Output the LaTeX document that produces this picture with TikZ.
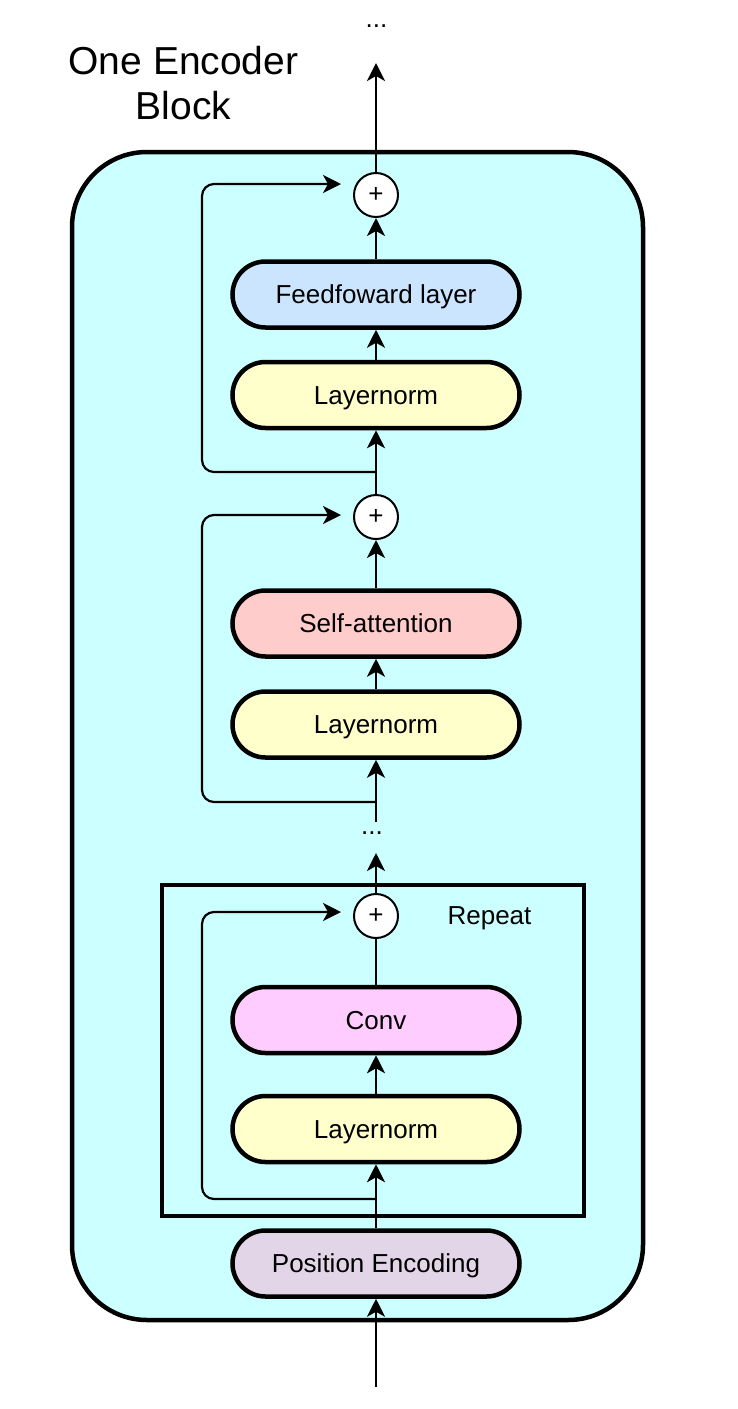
\documentclass[tikz,border=0pt]{standalone}
\usepackage{fontspec}
\setmainfont{Liberation Sans}
\usetikzlibrary{arrows.meta}
\definecolor{outerfill}{HTML}{CCFFFF}
\definecolor{ffblue}{HTML}{CCE5FF}
\definecolor{lnyellow}{HTML}{FFFFCC}
\definecolor{sared}{HTML}{FFCCCC}
\definecolor{convpink}{HTML}{FFCCFF}
\definecolor{pepurple}{HTML}{E1D5E7}
\begin{document}
\begin{tikzpicture}[x=1pt,y=-1pt,
  blk/.style={draw, line width=4.5pt, rounded corners=33pt, minimum width=287pt, minimum height=66pt, font=\fontsize{26}{31}\selectfont, inner sep=0pt, text height=18pt, text depth=0pt},
  sumnode/.style={circle, draw, fill=white, line width=2pt, minimum size=44pt, inner sep=0pt, font=\fontsize{26}{31}\selectfont},
  conn/.style={line width=2.2pt, -{Stealth[length=18pt,width=18pt,inset=5pt]}},
  plainline/.style={line width=2.2pt},
  skipline/.style={conn, rounded corners=12pt},
  smalltext/.style={font=\fontsize{26}{31}\selectfont, inner sep=0pt},
]
\useasboundingbox (0,0) rectangle (738,1409);
% outer block
\draw[line width=4.5pt, fill=outerfill, rounded corners=75pt] (72,152) rectangle (643,1320);
% repeat frame
\draw[line width=4.3pt] (162,885) rectangle (584,1216);

\node[align=center, inner sep=0pt, font=\fontsize{39}{45}\selectfont] (title) at (183.5,83) {One Encoder\\Block};
\node[smalltext, anchor=base] (dots1) at (376.5,27) {...};
\node[smalltext, anchor=base] (dots2) at (372,834) {...};
\node[anchor=base, inner sep=0pt, font=\fontsize{26}{31}\selectfont] (rep) at (489.5,924.5) {Repeat};

\node[sumnode] (p1) at (376,195) {+};
\node[blk, fill=ffblue] (ff) at (376,294.5) {Feedfoward layer};
\node[blk, fill=lnyellow] (ln1) at (376,395) {Layernorm};
\node[sumnode] (p2) at (376,517) {+};
\node[blk, fill=sared] (sa) at (376,623.5) {Self-attention};
\node[blk, fill=lnyellow] (ln2) at (376,724.5) {Layernorm};
\node[sumnode] (p3) at (376,916) {+};
\node[blk, fill=convpink] (conv) at (376,1020) {Conv};
\node[blk, fill=lnyellow] (ln3) at (376,1129) {Layernorm};
\node[blk, fill=pepurple] (pe) at (376,1263.5) {Position Encoding};

\coordinate (in) at (376,1387);
\coordinate (out) at (376,63);
\coordinate (dtop) at (376,853);
\coordinate (dbot) at (376,822);
\coordinate (b1) at (376,472);
\coordinate (b2) at (376,802);
\coordinate (b3) at (376,1199);
\coordinate (t1) at (341,184);
\coordinate (t2) at (341,515);
\coordinate (t3) at (341,912);

\draw[conn] (in) -- (pe.south);
\draw[conn] (pe.north) -- (ln3.south);
\draw[conn] (ln3.north) -- (conv.south);
\draw[plainline] (conv.north) -- (p3.south);
\draw[conn] (p3.north) -- (dtop);
\draw[conn] (dbot) -- (ln2.south);
\draw[conn] (ln2.north) -- (sa.south);
\draw[conn] (sa.north) -- (p2.south);
\draw[conn] (p2.north) -- (ln1.south);
\draw[conn] (ln1.north) -- (ff.south);
\draw[conn] (ff.north) -- (p1.south);
\draw[conn] (p1.north) -- (out);

\draw[skipline] (b3) -- ++(-174,0) |- (t3);
\draw[skipline] (b2) -- ++(-174,0) |- (t2);
\draw[skipline] (b1) -- ++(-174,0) |- (t1);
\end{tikzpicture}
\end{document}
